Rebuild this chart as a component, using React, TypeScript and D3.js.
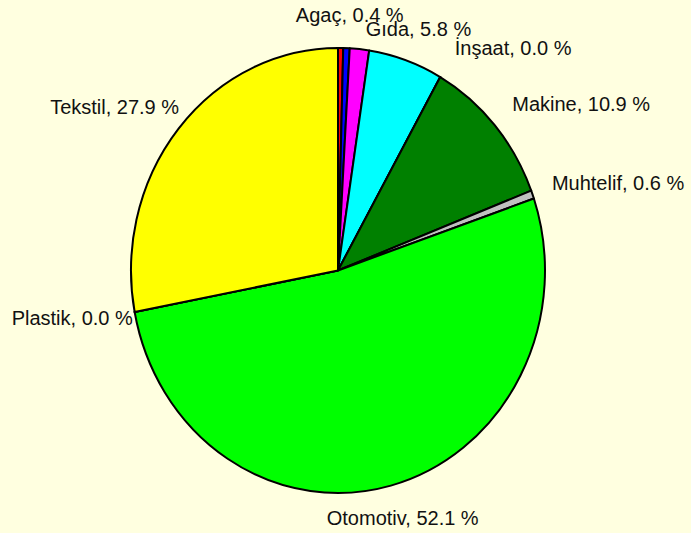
import React from "react";
import * as d3 from "d3";

const categories = ["Agaç", "Beyaz Eşya", "Elektrik", "Gıda", "İnşaat", "Makine", "Muhtelif", "Otomotiv", "Plastik", "Tekstil"];
const values = [0.4, 0.5, 1.5, 5.8, 0.0, 10.9, 0.6, 52.1, 0.0, 27.9];
const showLabel = [true, false, false, true, true, true, true, true, true, true];
const colors = ["#FF0000", "#0000FF", "#FF00FF", "#00FFFF", "#800080", "#008000", "#C0C0C0", "#00FF00", "#FF8000", "#FFFF00"];

const W = 691;
const H = 533;
const cx = 338;
const cy = 270.5;
const rx = 207;
const ry = 222.5;

export default function App() {
  const data = categories.map((c, i) => ({ name: c, value: values[i], color: colors[i], show: showLabel[i] }));
  const pie = d3.pie<any>().sort(null).value((d: any) => d.value).startAngle(0).endAngle(2 * Math.PI);
  const arcs = pie(data);
  const arc = d3.arc<any>().innerRadius(0).outerRadius(ry);

  return (
    <div style={{ position: "fixed", left: 0, top: 0 }}>
      <svg width={W} height={H} style={{ display: "block", background: "#FFFFE0" }}>
        <rect x={0} y={0} width={W} height={H} fill="#FFFFE0" />
        <g transform={`translate(${cx},${cy}) scale(${rx / ry},1)`}>
          {arcs.map((a, i) => (
            <path
              key={i}
              d={arc(a) || ""}
              fill={a.data.color}
              stroke="#000"
              strokeWidth={2}
              strokeLinejoin="round"
              vectorEffect="non-scaling-stroke"
            />
          ))}
        </g>
        <g fontFamily="'Liberation Sans', Arial, sans-serif" fontSize={20} fill="#111">
          {arcs.map((a, i) => {
            if (!a.data.show) return null;
            const mid = (a.startAngle + a.endAngle) / 2;
            const s = Math.sin(mid);
            const c = Math.cos(mid);
            const x = cx + 218 * s + 9;
            const yc = cy - 256 * c;
            const anchor = s > 0.45 ? "start" : s < -0.45 ? "end" : "middle";
            return (
              <text key={i} x={x} y={yc + 7} textAnchor={anchor}>
                {`${a.data.name}, ${a.data.value.toFixed(1)} %`}
              </text>
            );
          })}
        </g>
      </svg>
    </div>
  );
}
